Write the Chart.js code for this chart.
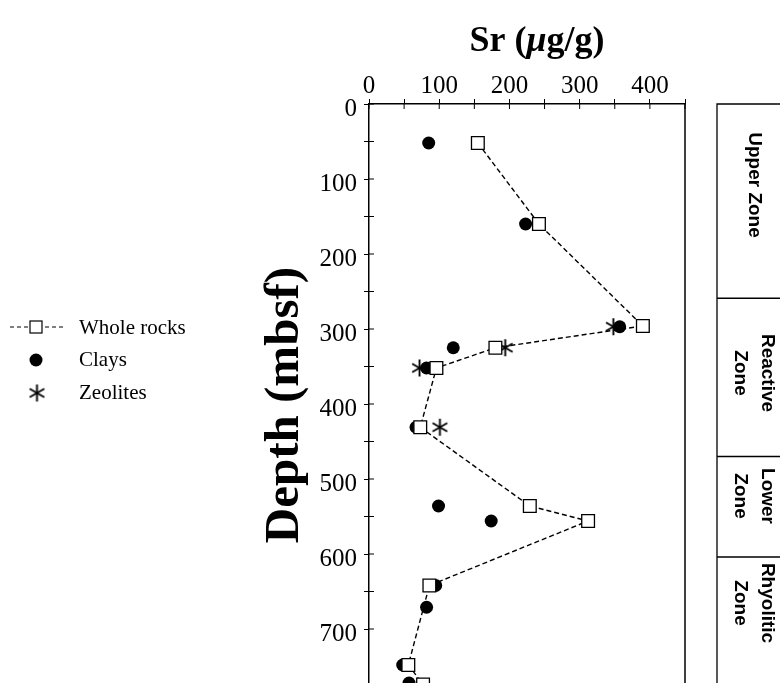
<!DOCTYPE html>
<html>
<head>
<meta charset="utf-8">
<script src="https://cdn.jsdelivr.net/npm/chart.js@4/dist/chart.umd.min.js"></script>
<style>
  body { margin: 0; background: #fff; }
  #wrap { width: 780px; height: 683px; }
</style>
</head>
<body>
<div id="wrap"><canvas id="myChartsr" width="780" height="683"></canvas></div>
<script>
// Sr content vs depth
const wholeDepth = [52, 160, 296, 325, 352, 431, 536, 556, 642, 748, 774];
const wholeSr = [155, 242, 390, 180, 96, 73, 229, 312, 86, 56, 77];
const clayDepth = [52, 160, 297, 325, 352, 431, 536, 556, 642, 671, 748, 772];
const claySr = [85, 223, 357, 120, 82, 67, 99, 174, 95, 82, 48, 57];
const zeoDepth = [297, 325, 352, 431];
const zeoSr = [348, 194, 72, 101];
const srTicks = [0, 100, 200, 300, 400];
const depthTicks = [0, 100, 200, 300, 400, 500, 600, 700];
const zoneNames = [['Upper Zone'], ['Reactive', 'Zone'], ['Lower', 'Zone'], ['Rhyolitic', 'Zone']];
const zoneTops = [0, 259, 470, 604];

function toPoints(xs, ys) {
  return xs.map((x, i) => ({ x: x, y: ys[i] }));
}

function makeStar(size) {
  const c = document.createElement('canvas');
  c.width = size; c.height = size;
  const g = c.getContext('2d');
  g.strokeStyle = '#000';
  g.lineWidth = 1.9;
  const r = size / 2 - 1;
  [90, 30, 150].forEach(a => {
    const t = a * Math.PI / 180;
    g.beginPath();
    g.moveTo(size / 2 - r * Math.cos(t), size / 2 - r * Math.sin(t));
    g.lineTo(size / 2 + r * Math.cos(t), size / 2 + r * Math.sin(t));
    g.stroke();
  });
  return c;
}
const star = makeStar(19);

const extras = {
  id: 'extras',
  afterDraw(chart) {
    const ctx = chart.ctx;
    const area = chart.chartArea;
    const xs = chart.scales.x, ys = chart.scales.y;
    ctx.save();
    ctx.strokeStyle = '#000';
    ctx.fillStyle = '#000';

    // right frame line
    ctx.lineWidth = 1.5;
    ctx.beginPath();
    ctx.moveTo(area.right, area.top);
    ctx.lineTo(area.right, area.bottom);
    ctx.stroke();

    // inward ticks
    ctx.lineWidth = 1;
    xs.ticks.forEach(t => {
      const px = xs.getPixelForValue(t.value);
      ctx.beginPath(); ctx.moveTo(px, area.top); ctx.lineTo(px, area.top + 5); ctx.stroke();
    });
    ys.ticks.forEach(t => {
      const py = ys.getPixelForValue(t.value);
      ctx.beginPath(); ctx.moveTo(area.left, py); ctx.lineTo(area.left + 5, py); ctx.stroke();
    });

    // top title with italic mu
    const parts = [['bold 36px "Liberation Serif"', 'Sr ('], ['italic bold 36px "Liberation Serif"', 'μ'], ['bold 36px "Liberation Serif"', 'g/g)']];
    let total = 0;
    parts.forEach(p => { ctx.font = p[0]; total += ctx.measureText(p[1]).width; });
    let tx = 537 - total / 2;
    ctx.textBaseline = 'alphabetic';
    ctx.textAlign = 'left';
    parts.forEach(p => { ctx.font = p[0]; ctx.fillText(p[1], tx, 51); tx += ctx.measureText(p[1]).width; });

    // y title
    ctx.save();
    ctx.translate(285, 405);
    ctx.rotate(-Math.PI / 2);
    ctx.font = 'bold 49px "Liberation Serif"';
    ctx.textAlign = 'center';
    ctx.textBaseline = 'middle';
    ctx.fillText('Depth (mbsf)', 0, 0);
    ctx.restore();

    // legend
    ctx.font = '21px "Liberation Serif"';
    ctx.textBaseline = 'middle';
    ctx.textAlign = 'left';
    ctx.lineWidth = 1.2;
    ctx.setLineDash([4, 3]);
    ctx.beginPath(); ctx.moveTo(10, 327); ctx.lineTo(64, 327); ctx.stroke();
    ctx.setLineDash([]);
    ctx.fillStyle = '#fff';
    ctx.fillRect(30, 321, 12, 12);
    ctx.strokeRect(30, 321, 12, 12);
    ctx.fillStyle = '#000';
    ctx.fillText('Whole rocks', 79, 328);
    ctx.beginPath(); ctx.arc(36, 360, 6.5, 0, Math.PI * 2); ctx.fill();
    ctx.fillText('Clays', 79, 360);
    ctx.drawImage(star, 37 - 9.5, 393 - 9.5);
    ctx.fillText('Zeolites', 79, 393);

    // zone panel
    const left = area.right + 32;
    ctx.lineWidth = 1.3;
    ctx.beginPath();
    ctx.moveTo(chart.width, area.top); ctx.lineTo(left, area.top); ctx.lineTo(left, area.bottom);
    ctx.stroke();
    zoneTops.forEach((d, i) => {
      if (i === 0) return;
      const py = ys.getPixelForValue(d);
      ctx.beginPath(); ctx.moveTo(left, py); ctx.lineTo(chart.width, py); ctx.stroke();
    });
    const labelY = [185, 373, 496, 603];
    ctx.font = 'bold 19px "Liberation Sans"';
    ctx.textAlign = 'center';
    ctx.textBaseline = 'middle';
    zoneNames.forEach((lines, i) => {
      ctx.save();
      ctx.translate(754, labelY[i]);
      ctx.rotate(Math.PI / 2);
      if (lines.length === 1) {
        ctx.fillText(lines[0], 0, 0);
      } else {
        ctx.fillText(lines[0], 0, -13.5);
        ctx.fillText(lines[1], 0, 13.5);
      }
      ctx.restore();
    });
    ctx.restore();
  }
};

const ctxsr = document.getElementById('myChartsr');

const myChartsr = new Chart(ctxsr, {
  type: 'scatter',
  data: {
    datasets: [{
      label: 'Whole rocks',
      data: toPoints(wholeSr, wholeDepth),
      showLine: true,
      borderColor: '#000',
      borderWidth: 1.4,
      borderDash: [5, 3],
      pointStyle: 'rect',
      pointRadius: 9,
      pointBorderWidth: 1.3,
      pointBackgroundColor: '#fff',
      pointBorderColor: '#000',
      order: 0
    }, {
      label: 'Clays',
      data: toPoints(claySr, clayDepth),
      pointStyle: 'circle',
      pointRadius: 6.5,
      pointBorderWidth: 0,
      pointBackgroundColor: '#000',
      borderColor: '#000',
      order: 2
    }, {
      label: 'Zeolites',
      data: toPoints(zeoSr, zeoDepth),
      pointStyle: star,
      order: 1
    }]
  },
  options: {
    responsive: false,
    animation: false,
    layout: { autoPadding: false, padding: { left: 0, top: 0, right: 95, bottom: 0 } },
    plugins: {
      legend: { display: false },
      tooltip: { enabled: false }
    },
    scales: {
      x: {
        type: 'linear',
        position: 'top',
        min: 0,
        max: 450,
        afterFit(scale) {
          scale.height = 104;
          scale.paddingLeft = 0; scale.paddingRight = 0;
        },
        ticks: {
          stepSize: 50,
          padding: -2,
          maxRotation: 0,
          minRotation: 0,
          autoSkip: false,
          color: '#000',
          font: { family: 'Liberation Serif', size: 25 },
          callback: v => srTicks.includes(v) ? v : ''
        },
        grid: { drawOnChartArea: false, tickLength: 5, color: '#000' },
        border: { color: '#000', width: 1.5 }
      },
      y: {
        type: 'linear',
        reverse: true,
        min: 0,
        max: 772,
        afterFit(scale) {
          scale.width = 369;
          scale.paddingTop = 0; scale.paddingBottom = 0;
        },
        afterBuildTicks(scale) { scale.ticks = scale.ticks.filter(t => t.value % 50 === 0); },
        ticks: {
          stepSize: 50,
          padding: 7,
          labelOffset: 5,
          autoSkip: false,
          color: '#000',
          font: { family: 'Liberation Serif', size: 25 },
          callback: v => depthTicks.includes(v) ? v : ''
        },
        grid: { drawOnChartArea: false, tickLength: 5, color: '#000' },
        border: { color: '#000', width: 1.5 }
      }
    }
  },
  plugins: [extras]
});
</script>
</body>
</html>
